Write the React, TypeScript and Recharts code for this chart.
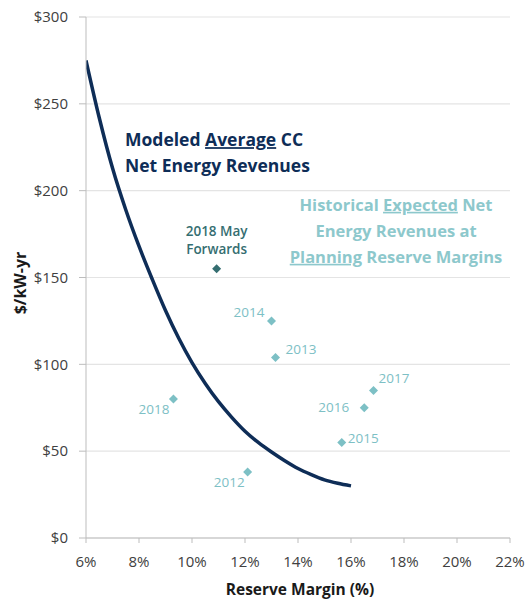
import React from 'react';
import { ComposedChart, Line, Scatter, XAxis, YAxis, CartesianGrid, Customized } from 'recharts';

// Modeled average CC net energy revenue curve
const curveMargin = [6, 6.5, 7, 7.5, 8, 8.5, 9, 9.5, 10, 10.5, 11, 11.5, 12, 12.5, 13, 13.5, 14, 14.5, 15, 15.5, 16];
const curveRevenue = [275, 242, 213, 189, 168, 149, 131, 115, 101, 89, 78.5, 69.5, 61.5, 55, 49.5, 44.5, 40, 36.5, 33.5, 31.5, 30];

// Historical expected net energy revenues at planning reserve margins
const histYears = ['2012', '2013', '2014', '2015', '2016', '2017', '2018'];
const histMargin = [12.1, 13.15, 13.0, 15.65, 16.5, 16.85, 9.3];
const histRevenue = [38, 104, 125, 55, 75, 85, 80];

// 2018 May forwards
const fwdMargin = [10.93];
const fwdRevenue = [155];
const fwdLabel = ['2018 May', 'Forwards'];

const xTicks = [6, 8, 10, 12, 14, 16, 18, 20, 22];
const yTicks = [0, 50, 100, 150, 200, 250, 300];

const curveData = curveMargin.map((x, i) => ({ x, y: curveRevenue[i] }));
const histData = histYears.map((year, i) => ({ x: histMargin[i], y: histRevenue[i], year }));
const fwdData = fwdMargin.map((x, i) => ({ x, y: fwdRevenue[i] }));

const FONT = '"Open Sans", sans-serif';
const NAVY = '#0e2d57';
const TEAL = '#7dc0c5';
const DARK_TEAL = '#356e71';

const labelPlace: Record<string, { dx: number; dy: number; anchor: string }> = {
  '2012': { dx: -3, dy: 10, anchor: 'end' },
  '2013': { dx: 10, dy: -8, anchor: 'start' },
  '2014': { dx: -7, dy: -9, anchor: 'end' },
  '2015': { dx: 6, dy: -4, anchor: 'start' },
  '2016': { dx: -15, dy: 0, anchor: 'end' },
  '2017': { dx: 5, dy: -12, anchor: 'start' },
  '2018': { dx: -4, dy: 10, anchor: 'end' },
};

const HistShape = (props: any) => {
  const { cx, cy, payload } = props;
  const p = labelPlace[payload.year];
  const r = 4.5;
  return (
    <g>
      <polygon points={`${cx},${cy - r} ${cx + r},${cy} ${cx},${cy + r} ${cx - r},${cy}`} fill={TEAL} />
      <text x={cx + p.dx} y={cy + p.dy} dy="0.35em" textAnchor={p.anchor as any} fontFamily={FONT} fontSize={13.5} fill={TEAL}>
        {payload.year}
      </text>
    </g>
  );
};

const FwdShape = (props: any) => {
  const { cx, cy } = props;
  const r = 4.5;
  return (
    <g>
      <polygon points={`${cx},${cy - r} ${cx + r},${cy} ${cx},${cy + r} ${cx - r},${cy}`} fill={DARK_TEAL} />
      <text x={cx} y={cy - 38} dy="0.35em" textAnchor="middle" fontFamily={FONT} fontSize={13.5} fontWeight={600} fill={DARK_TEAL}>
        {fwdLabel[0]}
      </text>
      <text x={cx} y={cy - 20} dy="0.35em" textAnchor="middle" fontFamily={FONT} fontSize={13.5} fontWeight={600} fill={DARK_TEAL}>
        {fwdLabel[1]}
      </text>
    </g>
  );
};

const YTick = (props: any) => {
  const { y, payload } = props;
  return (
    <text x={68} y={y} dy="0.35em" textAnchor="end" fontFamily={FONT} fontSize={15} fill="#404040">
      {`$${payload.value}`}
    </text>
  );
};

const Annotations = () => (
  <g fontFamily={FONT} fontWeight={700}>
    <text x={125} y={140} dy="0.35em" fontSize={17.5} fill={NAVY}>
      Modeled <tspan textDecoration="underline">Average</tspan> CC
    </text>
    <text x={125} y={166} dy="0.35em" fontSize={17.5} fill={NAVY}>
      Net Energy Revenues
    </text>
    <text x={396} y={205} dy="0.35em" fontSize={16.5} fill="#8dc8cc" textAnchor="middle">
      Historical <tspan textDecoration="underline">Expected</tspan> Net
    </text>
    <text x={396} y={231} dy="0.35em" fontSize={16.5} fill="#8dc8cc" textAnchor="middle">
      Energy Revenues at
    </text>
    <text x={396} y={257} dy="0.35em" fontSize={16.5} fill="#8dc8cc" textAnchor="middle">
      <tspan textDecoration="underline">Planning</tspan> Reserve Margins
    </text>
    <text x={300} y={590} dy="0.35em" fontSize={15.5} fill="#1a1a1a" textAnchor="middle">
      Reserve Margin (%)
    </text>
    <text x={20} y={283} dy="0.35em" fontSize={16} fill="#1a1a1a" textAnchor="middle" transform="rotate(-90 20 283)">
      $/kW-yr
    </text>
  </g>
);

export default function App() {
  return (
    <div style={{ position: 'absolute', left: 0, top: 0, width: 529, height: 601, background: '#fff' }}>
      <ComposedChart width={529} height={601} margin={{ top: 17, right: 19, left: 0, bottom: 0 }}>
        <CartesianGrid vertical={false} stroke="#e4e4e4" strokeWidth={1.2} />
        <XAxis
          type="number"
          dataKey="x"
          domain={[6, 22]}
          ticks={xTicks}
          tickFormatter={(v: number) => `${v}%`}
          height={63}
          stroke="#bdbdbd"
          tickSize={5}
          tickMargin={13}
          tick={{ fill: '#404040', fontSize: 15, fontFamily: FONT }}
          allowDataOverflow
        />
        <YAxis
          type="number"
          dataKey="y"
          domain={[0, 300]}
          ticks={yTicks}
          width={86}
          stroke="#bdbdbd"
          tickSize={7}
          tick={YTick}
        />
        <Line
          data={curveData}
          dataKey="y"
          type="monotone"
          stroke={NAVY}
          strokeWidth={3.5}
          dot={false}
          activeDot={false}
          isAnimationActive={false}
        />
        <Scatter data={histData} dataKey="y" shape={HistShape} isAnimationActive={false} />
        <Scatter data={fwdData} dataKey="y" shape={FwdShape} isAnimationActive={false} />
        <Customized component={Annotations} />
      </ComposedChart>
    </div>
  );
}
